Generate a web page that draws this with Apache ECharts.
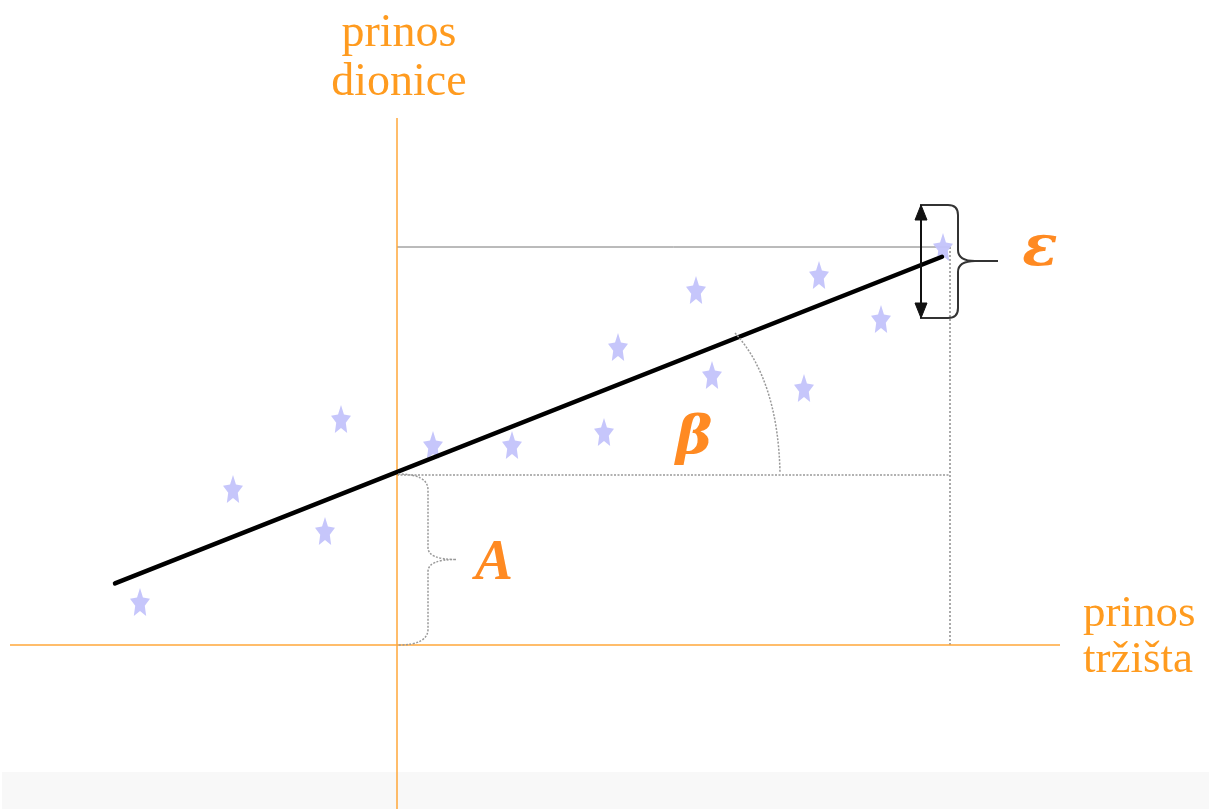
<!DOCTYPE html>
<html>
<head>
<meta charset="utf-8">
<script src="https://cdn.jsdelivr.net/npm/echarts@6/dist/echarts.min.js"></script>
<style>
html,body{margin:0;padding:0;background:#fff;}
#chart{width:1212px;height:809px;}
</style>
</head>
<body>
<div id="chart"></div>
<script>
// Market return (x) and stock return (y) observations
const marketReturns = [-25.7, -16.4, -5.6, -7.2, 3.6, 11.5, 20.7, 22.1, 29.9, 31.5, 40.7, 42.2, 48.4, 54.6];
const stockReturns  = [4.3, 15.6, 22.6, 11.4, 20.0, 20.0, 21.3, 29.8, 35.5, 27.0, 25.7, 37.0, 32.6, 39.8];
// Regression line: intercept A and slope beta
const alpha = 17.3;
const beta = 0.395;
const lineXRange = [-28.2, 54.5];
// Axis extents
const xAxisRange = [-38.7, 66.3];
const yAxisRange = [-16.4, 52.7];
const axisLabels = { y: 'prinos\ndionice', x: 'prinos\ntržišta' };
const greekLabels = { alpha: 'A', beta: 'β', eps: 'ε' };

const lastX = marketReturns[marketReturns.length - 1];
const lastY = stockReturns[stockReturns.length - 1];

const starPath = 'path://M50,0 L64.1,30.6 L97.6,34.5 L72.8,57.4 L79.4,90.5 L50,74 L20.6,90.5 L27.2,57.4 L2.4,34.5 L35.9,30.6 Z';
const ORANGE_AXIS = '#FFA73A';
const ORANGE_TEXT = '#FF9B1F';
const ORANGE_GREEK = '#FF8A22';

const chart = echarts.init(document.getElementById('chart'), null, {renderer: 'canvas'});

const scatterData = marketReturns.map((x, i) => [x, stockReturns[i]]);
const regData = lineXRange.map(x => [x, alpha + beta * x]);

function renderAnnotations(params, api) {
  const origin = api.coord([0, 0]);
  const icpt = api.coord([0, alpha]);
  const lastP = api.coord([lastX, lastY]);
  const axTop = api.coord([0, yAxisRange[1]]);
  const axRight = api.coord([xAxisRange[1], 0]);

  // A brace
  const x0 = origin[0] + 1, ty = icpt[1] + 2, by = origin[1], mid = (ty + by) / 2;
  const bracePathA = `M${x0},${ty} Q${x0+30},${ty} ${x0+30},${ty+16} L${x0+30},${mid-12} Q${x0+30},${mid} ${x0+58},${mid} M${x0+58},${mid} Q${x0+30},${mid} ${x0+30},${mid+12} L${x0+30},${by-16} Q${x0+30},${by} ${x0},${by}`;

  // epsilon brace
  const sx = lastP[0], sy = lastP[1];
  const L = sx - 23, R = sx + 15, T = sy - 42, B = sy + 71, tipY = sy + 14;
  const bracePathE = `M${L},${T} L${R-10},${T} Q${R},${T} ${R},${T+10} L${R},${tipY-11} Q${R},${tipY} ${R+17},${tipY} L${R+40},${tipY} M${R+17},${tipY} Q${R},${tipY} ${R},${tipY+11} L${R},${B-10} Q${R},${B} ${R-10},${B} L${L},${B}`;
  const ax = sx - 22;
  const arrowPath = `M${ax},${T+4} L${ax},${B-4}`;
  const arrowHeads = `M${ax},${T} L${ax-6},${T+15} L${ax+6},${T+15} Z M${ax},${B} L${ax-6},${B-15} L${ax+6},${B-15} Z`;

  // beta arc
  const ix = icpt[0], iy = icpt[1];
  const arcPath = `M${ix+338},${iy-139} Q${ix+381},${iy-92} ${ix+383},${iy+1}`;

  return {
    type: 'group',
    children: [
      {type: 'path', shape: {pathData: bracePathA}, style: {fill: null, stroke: '#999', lineWidth: 1.5, lineDash: [2, 1.5]}},
      {type: 'path', shape: {pathData: bracePathE}, style: {fill: null, stroke: '#333', lineWidth: 2}},
      {type: 'path', shape: {pathData: arrowPath}, style: {fill: null, stroke: '#111', lineWidth: 2}},
      {type: 'path', shape: {pathData: arrowHeads}, style: {fill: '#111', stroke: '#111', lineWidth: 1}},
      {type: 'path', shape: {pathData: arcPath}, style: {fill: null, stroke: '#999', lineWidth: 1.5, lineDash: [2, 1.5]}},
      {type: 'text', x: axTop[0] + 2, y: 9,
        style: {text: axisLabels.y, font: '46px "Liberation Serif", serif', fill: ORANGE_TEXT, align: 'center', verticalAlign: 'top', lineHeight: 49}},
      {type: 'text', x: axRight[0] + 23, y: 591,
        style: {text: axisLabels.x, font: '45px "Liberation Serif", serif', fill: ORANGE_TEXT, align: 'left', verticalAlign: 'top', lineHeight: 46}},
      {type: 'text', x: x0 + 96, y: mid + 5,
        style: {text: greekLabels.alpha, font: 'italic bold 57px "Liberation Serif", serif', fill: ORANGE_GREEK, align: 'center', verticalAlign: 'middle'}},
      {type: 'text', x: ix + 297, y: iy - 32,
        style: {text: greekLabels.beta, font: 'italic bold 55px "DejaVu Serif", serif', fill: ORANGE_GREEK, align: 'center', verticalAlign: 'middle'}},
      {type: 'text', x: sx + 97, y: sy + 3,
        style: {text: greekLabels.eps, font: 'italic bold 58px "DejaVu Serif", serif', fill: ORANGE_GREEK, align: 'center', verticalAlign: 'middle'}}
    ]
  };
}

const option = {
  animation: false,
  backgroundColor: '#ffffff',
  grid: {left: 0, right: 0, top: 0, bottom: 0},
  xAxis: {type: 'value', min: -39.7, max: 81.5, show: false},
  yAxis: {type: 'value', min: -16.4, max: 64.5, show: false},
  graphic: [
    {type: 'rect', z: -10, silent: true, shape: {x: 2, y: 772, width: 1207, height: 37}, style: {fill: '#f8f8f8'}}
  ],
  series: [
    {
      type: 'line', symbol: 'none', silent: true, z: 3,
      data: [[0, yAxisRange[1]], [0, yAxisRange[0]]],
      lineStyle: {color: ORANGE_AXIS, width: 1.5}
    },
    {
      type: 'line', symbol: 'none', silent: true, z: 3,
      data: [[xAxisRange[0], 0], [xAxisRange[1], 0]],
      lineStyle: {color: ORANGE_AXIS, width: 1.5}
    },
    {
      type: 'line', symbol: 'none', silent: true, z: 2,
      data: [[0, lastY], [lastX + 0.7, lastY]],
      lineStyle: {color: '#777', width: 1}
    },
    {
      type: 'line', symbol: 'none', silent: true, z: 2,
      data: [[lastX + 0.7, lastY], [lastX + 0.7, 0]],
      lineStyle: {color: '#555', width: 1, type: [2, 2]}
    },
    {
      type: 'line', symbol: 'none', silent: true, z: 2,
      data: [[0, alpha - 0.3], [lastX + 0.7, alpha - 0.3]],
      lineStyle: {color: '#999', width: 1.5, type: [2, 1.5]}
    },
    {
      type: 'scatter', z: 4,
      data: scatterData,
      symbol: starPath,
      symbolSize: [20, 28],
      symbolKeepAspect: false,
      itemStyle: {color: '#C3C3FB', opacity: 0.95}
    },
    {
      type: 'line', symbol: 'none', silent: true, z: 5,
      data: regData,
      lineStyle: {color: '#000', width: 4.5, cap: 'round'}
    },
    {
      type: 'custom', z: 10, silent: true,
      coordinateSystem: 'cartesian2d',
      data: [[0, 0]],
      renderItem: renderAnnotations
    }
  ]
};
chart.setOption(option);
</script>
</body>
</html>
